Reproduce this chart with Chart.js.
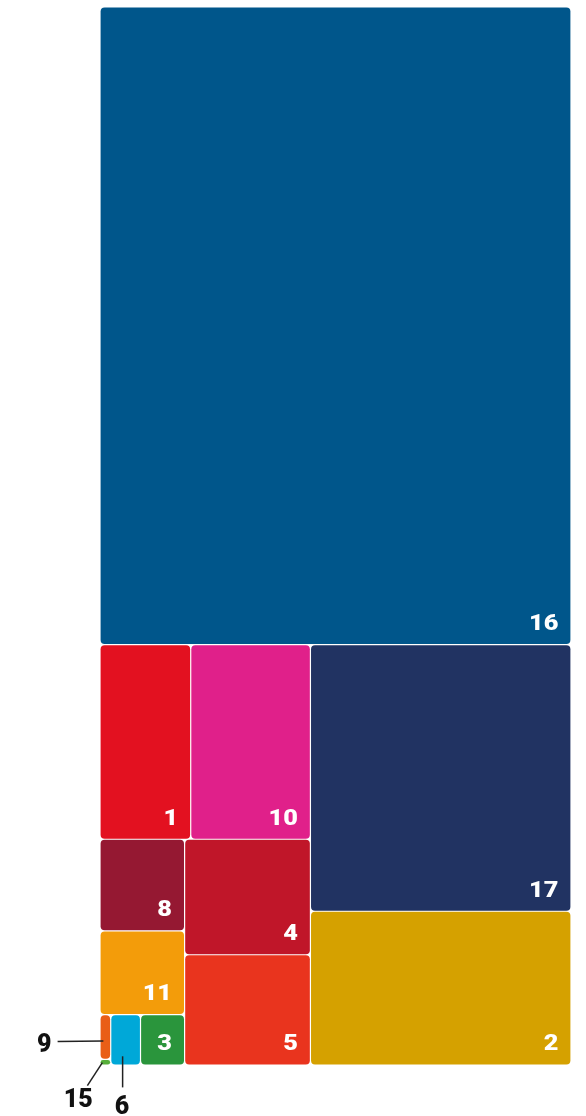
<!DOCTYPE html>
<html>
<head>
<meta charset="utf-8">
<script src="https://cdn.jsdelivr.net/npm/chart.js@4.4.1/dist/chart.umd.min.js"></script>
<style>
  html, body { margin: 0; padding: 0; background: #fff; }
  #wrap { width: 586px; height: 1116px; }
</style>
</head>
<body>
<div id="wrap"><canvas id="treemap"></canvas></div>
<script>
// SDG goals and their counts (sorted, largest first)
const goals = ['16', '17', '2', '10', '1', '4', '5', '8', '11', '3', '6', '9', '15'];
const counts = [5000, 1157, 667, 388, 294, 242, 231, 129, 118, 37, 25, 8, 1];

const goalColors = {
  '1': '#E31120', '2': '#D5A100', '3': '#2A953C', '4': '#C01629',
  '5': '#E9341E', '6': '#00A8D8', '8': '#951832', '9': '#E95E17',
  '10': '#E0208A', '11': '#F39C0A', '15': '#56AE3A', '16': '#00568B',
  '17': '#213362'
};

// small tiles get their label outside, with a leader line
const callouts = { '9': 'left', '15': 'downLeft', '6': 'down' };

// layout space (scale units), mapped to pixels by the chart's scales
const LAYOUT_W = 580;
const LAYOUT_H = 1000;
const PHI = (1 + Math.sqrt(5)) / 2;

// squarified treemap (same rule as d3.treemapSquarify)
function squarify(values, x0, y0, x1, y1) {
  const cells = [];
  const n = values.length;
  let value = values.reduce((a, b) => a + b, 0);
  let i0 = 0, i1 = 0;
  while (i0 < n) {
    const dx = x1 - x0, dy = y1 - y0;
    let sumValue = values[i1++];
    let minValue = sumValue, maxValue = sumValue;
    const alpha = Math.max(dy / dx, dx / dy) / (value * PHI);
    let beta = sumValue * sumValue * alpha;
    let minRatio = Math.max(maxValue / beta, beta / minValue);
    for (; i1 < n; ++i1) {
      const v = values[i1];
      sumValue += v;
      if (v < minValue) minValue = v;
      if (v > maxValue) maxValue = v;
      beta = sumValue * sumValue * alpha;
      const newRatio = Math.max(maxValue / beta, beta / minValue);
      if (newRatio > minRatio) { sumValue -= v; break; }
      minRatio = newRatio;
    }
    if (dx < dy) {
      const yb = i1 >= n ? y1 : y0 + dy * sumValue / value;
      let x = x0;
      for (let i = i0; i < i1; i++) {
        const w = (x1 - x0) * values[i] / sumValue;
        cells[i] = { x0: x, x1: x + w, y0: y0, y1: yb };
        x += w;
      }
      y0 = yb;
    } else {
      const xb = i1 >= n ? x1 : x0 + dx * sumValue / value;
      let y = y0;
      for (let i = i0; i < i1; i++) {
        const h = (y1 - y0) * values[i] / sumValue;
        cells[i] = { x0: x0, x1: xb, y0: y, y1: y + h };
        y += h;
      }
      x0 = xb;
    }
    value -= sumValue;
    i0 = i1;
  }
  return cells;
}

const cells = squarify(counts, 0, 0, LAYOUT_W, LAYOUT_H);
const points = cells.map((c, i) => ({
  x: (c.x0 + c.x1) / 2, y: (c.y0 + c.y1) / 2,
  x0: c.x0, x1: c.x1, y0: c.y0, y1: c.y1,
  goal: goals[i], count: counts[i]
}));

const treemapPlugin = {
  id: 'treemapTiles',
  afterDatasetsDraw(chart) {
    const ctx = chart.ctx;
    const xs = chart.scales.x, ys = chart.scales.y;
    const data = chart.data.datasets[0].data;
    ctx.save();
    data.forEach(d => {
      const ax = xs.getPixelForValue(d.x0), bx = xs.getPixelForValue(d.x1);
      const ay = ys.getPixelForValue(d.y0), by = ys.getPixelForValue(d.y1);
      const L = Math.min(ax, bx) + 0.6, R = Math.max(ax, bx) - 0.6;
      const T = Math.min(ay, by) + 0.6, B = Math.max(ay, by) - 0.6;
      const w = R - L, h = B - T;
      const r = Math.min(4, w / 2, h / 2);
      ctx.fillStyle = goalColors[d.goal];
      ctx.beginPath();
      ctx.roundRect(L, T, w, h, r);
      ctx.fill();

      const cx = (L + R) / 2, cy = (T + B) / 2;
      const side = callouts[d.goal];
      if (!side) {
        ctx.save();
        ctx.fillStyle = '#fff';
        ctx.font = '900 22px Roboto';
        ctx.textAlign = 'right';
        ctx.textBaseline = 'alphabetic';
        ctx.translate(R - 12, B - 14);
        ctx.scale(1.15, 1);
        ctx.fillText(d.goal, 0, 0);
        ctx.restore();
        return;
      }
      let line, tx, ty, align;
      if (side === 'left') {
        line = [cx - 2, cy + 4, L - 43, cy + 4.5];
        tx = L - 49; ty = cy + 15.5; align = 'right';
      } else if (side === 'downLeft') {
        line = [cx - 3, cy + 0.5, cx - 18, cy + 23.5];
        tx = cx - 27; ty = cy + 44.5; align = 'center';
      } else {
        line = [cx - 3, cy + 16.5, cx - 3, B + 23];
        tx = cx - 3.5; ty = B + 50; align = 'center';
      }
      ctx.strokeStyle = '#222';
      ctx.lineWidth = 1.5;
      ctx.beginPath();
      ctx.moveTo(line[0], line[1]);
      ctx.lineTo(line[2], line[3]);
      ctx.stroke();
      ctx.fillStyle = '#111';
      ctx.font = '900 25px Roboto';
      ctx.textAlign = align;
      ctx.textBaseline = 'alphabetic';
      ctx.fillText(d.goal, tx, ty);
    });
    ctx.restore();
  }
};

new Chart(document.getElementById('treemap'), {
  type: 'scatter',
  data: {
    datasets: [{
      label: 'SDG',
      data: points,
      pointRadius: 0,
      pointHoverRadius: 0
    }]
  },
  options: {
    responsive: true,
    maintainAspectRatio: false,
    animation: false,
    events: [],
    layout: {
      padding: { left: 100, right: 15, top: 7, bottom: 51 }
    },
    plugins: {
      legend: { display: false },
      tooltip: { enabled: false }
    },
    scales: {
      x: { type: 'linear', min: 0, max: LAYOUT_W, reverse: true, display: false },
      y: { type: 'linear', min: 0, max: LAYOUT_H, reverse: true, display: false }
    }
  },
  plugins: [treemapPlugin]
});
</script>
</body>
</html>
